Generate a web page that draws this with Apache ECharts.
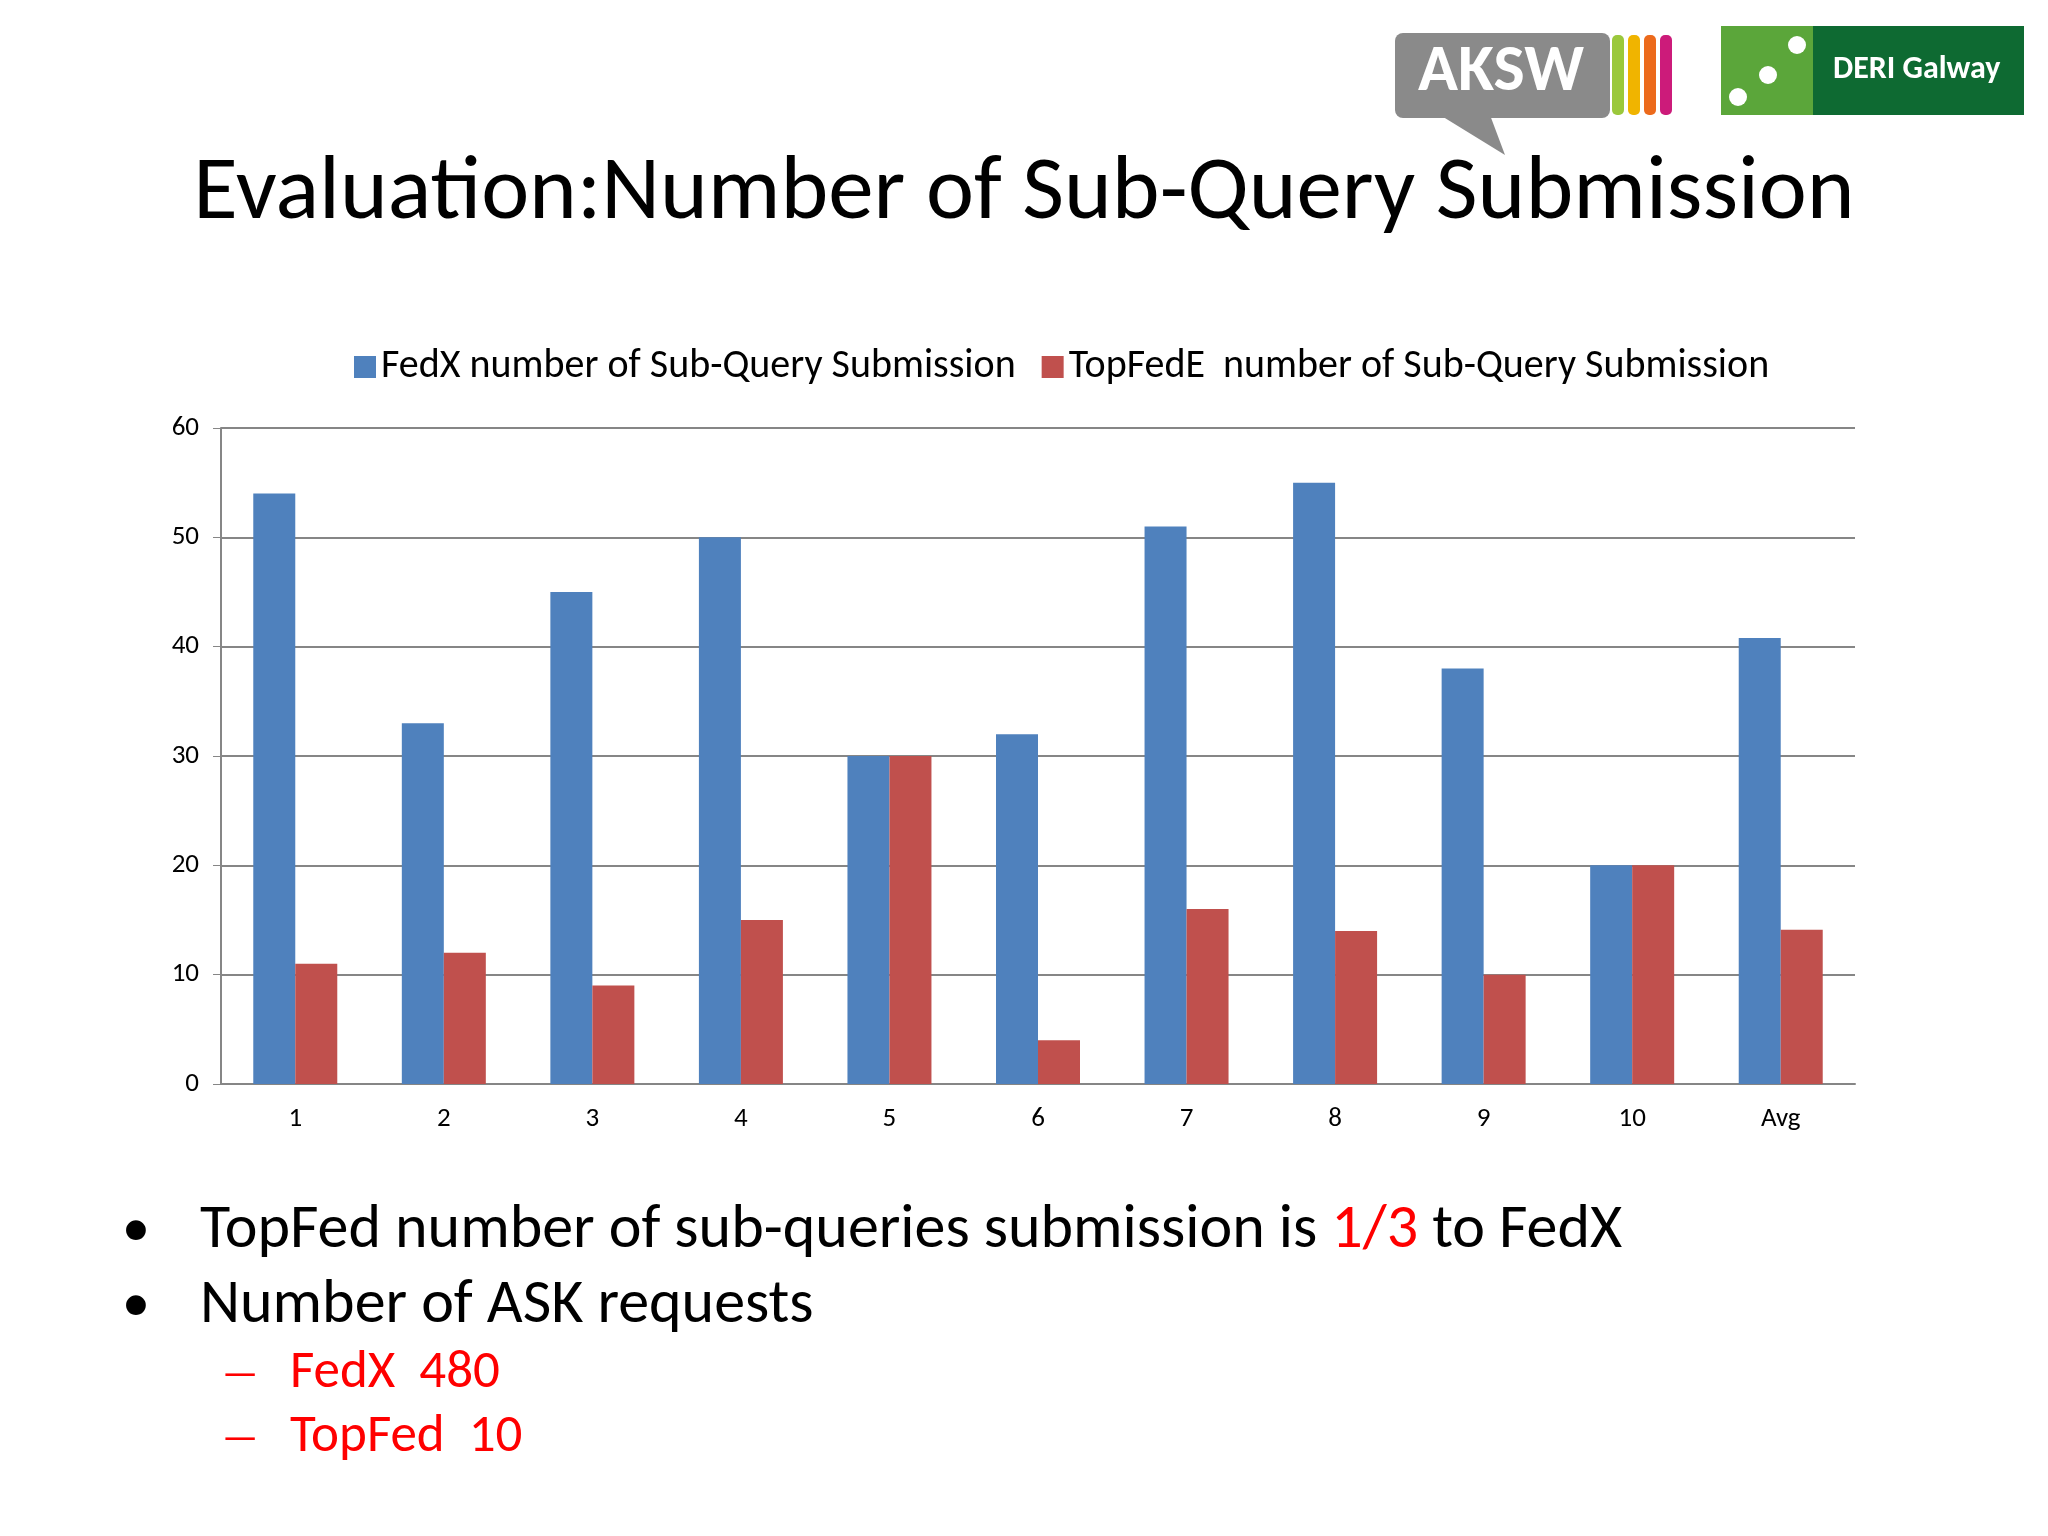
<!DOCTYPE html>
<html>
<head>
<meta charset="utf-8">
<script src="https://cdn.jsdelivr.net/npm/echarts@6/dist/echarts.min.js"></script>
<style>body{margin:0;background:#fff}#main{width:2048px;height:1536px}</style>
</head>
<body>
<div id="main"></div>
<script>
var categories = ['1', '2', '3', '4', '5', '6', '7', '8', '9', '10', 'Avg'];
var fedx = [54, 33, 45, 50, 30, 32, 51, 55, 38, 20, 40.8];
var topfed = [11, 12, 9, 15, 30, 4, 16, 14, 10, 20, 14.1];

var font = 'Calibri, Carlito, "Open Sans", sans-serif';
var chart = echarts.init(document.getElementById('main'));
chart.setOption({
    backgroundColor: '#fff',
    animation: false,
    title: {
        text: 'Evaluation:Number of Sub-Query Submission',
        left: 'center', top: 145,
        textStyle: { fontSize: 91, fontWeight: 'normal', color: '#000', fontFamily: font }
    },
    legend: {
        top: 342, left: 349, itemWidth: 22, itemHeight: 22, itemGap: 26,
        icon: 'rect',
        textStyle: { fontSize: 40, color: '#000', fontFamily: font },
        data: ['FedX number of Sub-Query Submission', 'TopFedE  number of Sub-Query Submission']
    },
    grid: { left: 221, right: 193, top: 428, bottom: 452 },
    xAxis: {
        type: 'category', data: categories,
        axisLine: { lineStyle: { color: '#868686', width: 2 } },
        axisTick: { length: 8, lineStyle: { color: '#868686' } },
        axisLabel: { fontSize: 27, color: '#000', margin: 22, fontFamily: font }
    },
    yAxis: {
        type: 'value', min: 0, max: 60, interval: 10,
        axisLine: { show: true, lineStyle: { color: '#868686', width: 2 } },
        axisTick: { show: true, length: 8, lineStyle: { color: '#868686' } },
        splitLine: { lineStyle: { color: '#868686', width: 2 } },
        axisLabel: { fontSize: 27, color: '#000', margin: 22, fontFamily: font }
    },
    series: [
        { name: 'FedX number of Sub-Query Submission', type: 'bar', data: fedx,
          barWidth: 42, barGap: '0%', itemStyle: { color: '#4F81BD' } },
        { name: 'TopFedE  number of Sub-Query Submission', type: 'bar', data: topfed,
          barWidth: 42, itemStyle: { color: '#C0504D' } }
    ],
    graphic: [
        // AKSW logo
        { type: 'polygon', shape: { points: [[1440, 115], [1505, 155], [1490, 115]] }, style: { fill: '#8a8a8a' } },
        { type: 'rect', shape: { x: 1395, y: 33, width: 215, height: 85, r: 8 }, style: { fill: '#8a8a8a' } },
        { type: 'text', left: 1418, top: 40, style: { text: 'AKSW', fontSize: 66, fontWeight: 'bold', fill: '#fff', fontFamily: font } },
        { type: 'rect', shape: { x: 1612, y: 35, width: 12, height: 80, r: 5 }, style: { fill: '#9bc83c' } },
        { type: 'rect', shape: { x: 1628, y: 35, width: 12, height: 80, r: 5 }, style: { fill: '#f0b400' } },
        { type: 'rect', shape: { x: 1644, y: 35, width: 12, height: 80, r: 5 }, style: { fill: '#ec6a1c' } },
        { type: 'rect', shape: { x: 1660, y: 35, width: 12, height: 80, r: 5 }, style: { fill: '#cc1b7a' } },
        // DERI logo
        { type: 'rect', shape: { x: 1721, y: 26, width: 92, height: 89 }, style: { fill: '#5ba63a' } },
        { type: 'rect', shape: { x: 1813, y: 26, width: 211, height: 89 }, style: { fill: '#0e6a32' } },
        { type: 'circle', shape: { cx: 1738, cy: 97, r: 9 }, style: { fill: '#fff' } },
        { type: 'circle', shape: { cx: 1768, cy: 75, r: 9 }, style: { fill: '#fff' } },
        { type: 'circle', shape: { cx: 1797, cy: 45, r: 9 }, style: { fill: '#fff' } },
        { type: 'text', left: 1833, top: 54, style: { text: 'DERI Galway', fontSize: 32, fontWeight: 'bold', fill: '#fff', fontFamily: font } },
        // bullets
        { type: 'text', left: 122, top: 1204, style: { text: '•', fontSize: 56, fill: '#000', fontFamily: font } },
        { type: 'text', left: 200, top: 1200, style: {
            text: 'TopFed number of sub-queries submission is {r|1/3} to FedX',
            fontSize: 62, fill: '#000', fontFamily: font,
            rich: { r: { fontSize: 62, fill: '#ff0000', fontFamily: font } } } },
        { type: 'text', left: 122, top: 1279, style: { text: '•', fontSize: 56, fill: '#000', fontFamily: font } },
        { type: 'text', left: 200, top: 1275, style: { text: 'Number of ASK requests', fontSize: 62, fill: '#000', fontFamily: font } },
        { type: 'text', left: 222, top: 1356, style: { text: '—', fontSize: 40, fill: '#ff0000', fontFamily: font } },
        { type: 'text', left: 290, top: 1347, style: { text: 'FedX  480', fontSize: 53, fill: '#ff0000', fontFamily: font } },
        { type: 'text', left: 222, top: 1420, style: { text: '—', fontSize: 40, fill: '#ff0000', fontFamily: font } },
        { type: 'text', left: 290, top: 1411, style: { text: 'TopFed  10', fontSize: 53, fill: '#ff0000', fontFamily: font } }
    ]
});
</script>
</body>
</html>
